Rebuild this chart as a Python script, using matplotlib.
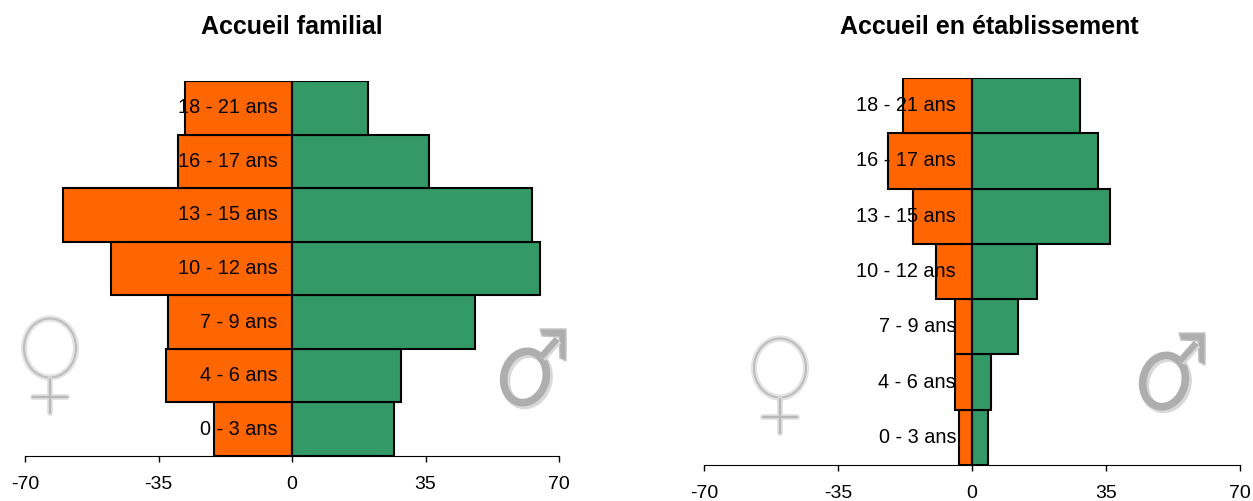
import numpy as np
import matplotlib
matplotlib.use('Agg')
import matplotlib.pyplot as plt
from matplotlib.patches import Ellipse, Polygon
from matplotlib.transforms import ScaledTranslation

plt.rcParams['font.family'] = ['Liberation Sans', 'DejaVu Sans']

ages = ['0 - 3 ans', '4 - 6 ans', '7 - 9 ans', '10 - 12 ans', '13 - 15 ans', '16 - 17 ans', '18 - 21 ans']
fam_f = [20.4, 33, 32.5, 47.4, 60, 30, 28]
fam_m = [26.7, 28.5, 48, 65, 63, 36, 20]
etab_f = [3.4, 4.4, 4.4, 9.4, 15.4, 22, 18]
etab_m = [4.2, 5, 12, 17, 36, 33, 28.2]
xticks = [-70, -35, 0, 35, 70]
xlabels = ['-70', '-35', '0', '35', '70']

W, H = 1253, 502
fig = plt.figure(figsize=(W / 100, H / 100), dpi=100)


def box(x0, x1, ytop, ybot):
    return [x0 / W, 1 - ybot / H, (x1 - x0) / W, (ybot - ytop) / H]


def pyramid(pos, women, men, pad):
    ax = fig.add_axes(pos)
    ax.patch.set_alpha(0)
    # moving the spine resets the ticks, so it comes first
    ax.spines['left'].set_position('zero')
    y = np.arange(len(ages))
    ax.barh(y, [-v for v in women], height=1, color='#ff6600', edgecolor='black', linewidth=1.5)
    ax.barh(y, men, height=1, color='#339966', edgecolor='black', linewidth=1.5)
    ax.set_xlim(-70, 70)
    ax.set_ylim(-0.5, len(ages) - 0.5)
    ax.set_xticks(xticks)
    ax.set_xticklabels(xlabels, fontsize=14)
    ax.set_yticks(y)
    ax.set_yticklabels(ages, fontsize=14.3, va='center_baseline')
    for s in ['top', 'right']:
        ax.spines[s].set_visible(False)
    ax.spines['left'].set_linewidth(1.5)
    ax.spines['left'].set_capstyle('butt')
    ax.tick_params(axis='y', length=0, pad=pad)
    ax.tick_params(axis='x', length=4.5, width=1, pad=9)
    # age labels sit a little above the bar centres in the original
    up = ScaledTranslation(0, 3 / 100, fig.dpi_scale_trans)
    for lbl in ax.get_yticklabels():
        lbl.set_transform(lbl.get_transform() + up)
    return ax


pyramid(box(25, 559, 82, 457), fam_f, fam_m, 10.5)
pyramid(box(704, 1240, 79, 466), etab_f, etab_m, 11.5)

fig.text(291.5 / W, 1 - 27 / H, 'Accueil familial', ha='center', va='center', fontsize=18, fontweight='bold')
fig.text(989 / W, 1 - 27 / H, 'Accueil en établissement', ha='center', va='center', fontsize=18, fontweight='bold')

# gender signs, drawn in pixel coordinates on a clear overlay
deco = fig.add_axes([0, 0, 1, 1], zorder=5)
deco.set_xlim(0, W)
deco.set_ylim(H, 0)
deco.axis('off')


def venus(cx, cy):
    deco.add_patch(Ellipse((cx, cy), 52, 59, fill=False, ec='#e4e4e4', lw=4.5))
    deco.add_patch(Ellipse((cx, cy), 52, 59, fill=False, ec='#bdbdbd', lw=1.5))
    for col, lw in [('#dcdcdc', 4), ('#b8b8b8', 1.5)]:
        deco.plot([cx, cx], [cy + 31, cy + 65], color=col, lw=lw, solid_capstyle='round')
        deco.plot([cx - 17, cx + 17], [cy + 49, cy + 49], color=col, lw=lw, solid_capstyle='round')


def mars(cx, cy):
    # soft shadow, then the sign
    for dx, col, lw in [(2, '#d8d8d8', 6.5), (0, '#aeaeae', 5.5)]:
        deco.add_patch(Ellipse((cx + dx, cy + dx), 42, 52, angle=15, fill=False, ec=col, lw=lw))
    for dx, col in [(2, '#d8d8d8'), (0, '#aeaeae')]:
        deco.plot([cx + 16 + dx, cx + 32 + dx], [cy - 20 + dx, cy - 38 + dx], color=col, lw=4.5, solid_capstyle='butt')
    deco.add_patch(Polygon([(cx + 15, cy - 48), (cx + 41, cy - 48), (cx + 41, cy - 16),
                            (cx + 35, cy - 19), (cx + 34, cy - 40), (cx + 17, cy - 41)],
                           closed=True, fc='#aeaeae', ec='#c4c4c4', lw=1))


venus(50, 349)
mars(525, 378)
venus(780, 369)
mars(1164, 382)

fig.savefig('out.png', dpi=100)
